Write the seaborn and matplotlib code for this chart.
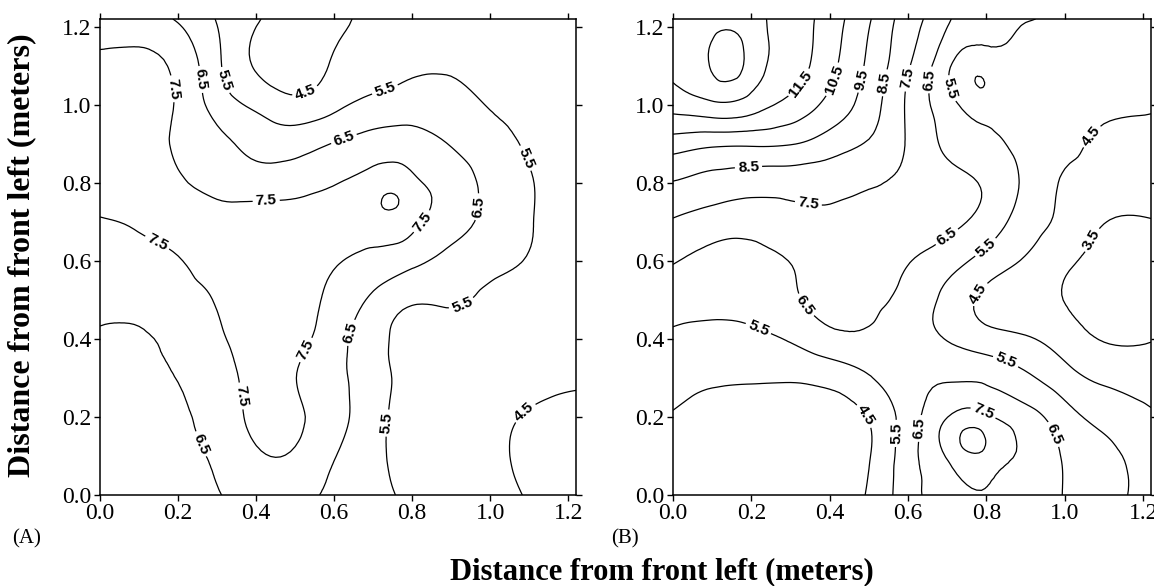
import numpy as np
import matplotlib
import matplotlib.pyplot as plt
import matplotlib.tri as mtri
from matplotlib.ticker import FormatStrFormatter
import seaborn as sns
matplotlib.use("Agg")

# sampling grid (meters from front left)
x_pos = [0.0, 0.1, 0.2, 0.3, 0.4, 0.5, 0.6, 0.7, 0.8, 0.9, 1.0, 1.1, 1.22]
y_pos = [0.0, 0.1, 0.2, 0.3, 0.4, 0.5, 0.6, 0.7, 0.8, 0.9, 1.0, 1.1, 1.22]

# panel (A) readings, one row per y position (bottom -> top)
values_a = [
    [5.9, 6.0, 6.2, 6.45, 6.9, 6.8, 6.3, 5.8, 5.3, 5.0, 4.75, 4.45, 4.2],
    [6.0, 6.1, 6.3, 6.65, 7.36, 7.38, 6.55, 5.75, 5.15, 5.0, 4.7, 4.35, 4.2],
    [6.1, 6.25, 6.4, 6.9, 7.7, 7.65, 6.9, 5.85, 5.15, 4.95, 4.7, 4.45, 4.3],
    [6.2, 6.35, 6.52, 7.1, 7.7, 7.52, 6.8, 5.9, 5.2, 5.0, 4.85, 4.7, 4.6],
    [6.4, 6.38, 6.8, 7.35, 7.85, 7.75, 6.95, 5.8, 5.3, 5.2, 5.05, 4.9, 4.8],
    [6.7, 6.85, 7.2, 7.55, 7.95, 7.85, 7.25, 6.3, 5.6, 5.6, 5.3, 5.1, 5.0],
    [7.0, 7.2, 7.45, 7.85, 8.0, 7.95, 7.6, 7.2, 6.75, 6.2, 5.8, 5.45, 5.2],
    [7.45, 7.6, 7.8, 7.9, 7.95, 7.95, 7.95, 8.1, 7.8, 6.9, 6.2, 5.55, 5.2],
    [7.7, 7.75, 7.6, 7.2, 7.0, 7.1, 7.45, 8.0, 7.8, 7.0, 6.2, 5.55, 5.2],
    [7.75, 7.7, 7.4, 6.8, 6.2, 6.1, 6.55, 6.9, 6.9, 6.45, 5.9, 5.4, 5.2],
    [7.75, 7.7, 7.4, 6.1, 5.3, 4.8, 5.25, 5.8, 6.0, 5.85, 5.45, 5.25, 5.15],
    [7.6, 7.7, 7.25, 5.7, 4.4, 4.0, 4.6, 5.0, 5.35, 5.4, 5.3, 5.2, 5.1],
    [7.2, 6.9, 6.4, 5.45, 4.6, 4.1, 4.3, 4.7, 4.9, 5.0, 5.1, 5.15, 5.15],
]

# panel (B) readings
values_b = [
    [4.0, 3.95, 3.95, 4.0, 4.2, 4.6, 6.1, 7.0, 7.4, 7.1, 6.45, 5.8, 5.2],
    [4.0, 3.9, 3.9, 3.95, 4.15, 4.45, 6.1, 7.6, 8.2, 7.3, 6.4, 5.75, 5.1],
    [4.4, 4.1, 4.05, 4.05, 4.2, 4.55, 6.0, 7.48, 7.7, 6.9, 5.9, 5.2, 4.6],
    [4.9, 4.65, 4.6, 4.6, 4.8, 5.4, 6.2, 6.4, 6.3, 5.7, 4.9, 4.3, 4.2],
    [5.3, 5.2, 5.25, 5.6, 6.2, 6.35, 6.0, 5.45, 4.9, 4.6, 4.0, 3.45, 3.45],
    [6.0, 5.8, 5.9, 6.35, 6.8, 6.7, 6.2, 5.2, 4.3, 3.95, 3.48, 3.2, 3.2],
    [6.55, 6.25, 6.25, 6.52, 6.95, 7.0, 6.55, 5.95, 5.1, 4.4, 3.7, 3.2, 3.1],
    [7.4, 7.0, 6.85, 7.15, 7.3, 7.2, 7.1, 6.75, 6.1, 5.0, 4.25, 3.53, 3.45],
    [8.45, 8.15, 7.95, 7.9, 7.85, 7.6, 7.3, 6.85, 6.35, 5.3, 4.4, 4.1, 4.0],
    [10.0, 9.7, 9.65, 9.55, 9.0, 8.4, 7.4, 6.3, 5.75, 5.2, 4.75, 4.3, 4.15],
    [11.9, 12.3, 12.0, 11.2, 10.2, 9.0, 7.35, 5.9, 4.95, 4.8, 4.75, 4.7, 4.6],
    [12.7, 13.6, 13.1, 12.0, 10.8, 9.3, 7.6, 5.7, 4.9, 4.95, 4.9, 4.85, 4.8],
    [12.9, 13.0, 12.9, 12.1, 11.0, 9.6, 8.0, 6.65, 5.65, 5.55, 5.35, 5.2, 5.1],
]

# local peaks / dips that fall between grid nodes: (x, y, value)
extra_a = [(0.754, 0.759, 8.56)]
extra_b = [(0.14, 1.11, 13.95), (0.763, 0.143, 8.8), (0.774, 1.07, 4.49)]

levels_a = [4.5, 5.5, 6.5, 7.5, 8.5]
levels_b = [3.5, 4.5, 5.5, 6.5, 7.5, 8.5, 9.5, 10.5, 11.5, 12.5, 13.5]

# where the contour labels sit
label_pos_a = [(0.176, 1.04), (0.427, 0.735), (0.152, 0.658), (0.83, 0.697),
               (0.527, 0.372), (0.375, 0.256), (0.251, 1.064), (0.626, 0.91),
               (0.961, 0.739), (0.645, 0.415), (0.261, 0.132), (0.323, 1.064),
               (0.726, 1.051), (1.101, 0.868), (0.925, 0.491), (0.74, 0.184),
               (0.527, 1.03), (1.086, 0.214)]
label_pos_b = [(0.317, 1.06), (0.411, 1.064), (0.487, 1.064), (0.543, 1.056),
               (0.6, 1.068), (0.655, 1.064), (0.71, 1.042), (0.193, 0.833),
               (0.345, 0.744), (0.693, 0.671), (0.796, 0.637), (1.08, 0.91),
               (1.078, 0.649), (0.791, 0.508), (0.355, 0.5), (0.218, 0.427),
               (0.847, 0.338), (0.487, 0.201), (0.564, 0.158), (0.625, 0.171),
               (0.795, 0.218), (0.958, 0.15)]

sns.set_style("ticks", {"axes.edgecolor": "black", "xtick.color": "black",
                        "ytick.color": "black", "text.color": "black"})
plt.rcParams['font.family'] = ['Liberation Serif', 'DejaVu Serif']


def draw_panel(ax, values, extra, levels, label_pos):
    """Contour one floor map and dress the axes"""
    gx, gy = np.meshgrid(x_pos, y_pos)
    px = np.concatenate([gx.ravel(), [e[0] for e in extra]])
    py = np.concatenate([gy.ravel(), [e[1] for e in extra]])
    pz = np.concatenate([np.array(values).ravel(), [e[2] for e in extra]])

    tri = mtri.Triangulation(px, py)
    tri_f, z_f = mtri.UniformTriRefiner(tri).refine_field(pz, subdiv=3)
    cs = ax.tricontour(tri_f, z_f, levels=levels, colors='black',
                       linewidths=0.9)
    # labels in a bold sans face, like the original
    with plt.rc_context({'font.family': 'Liberation Sans',
                         'font.weight': 'bold'}):
        ax.clabel(cs, fmt='%.1f', fontsize=11, manual=label_pos,
                  inline=True, inline_spacing=3)

    ax.set_xlim(0, 1.22)
    ax.set_ylim(0, 1.22)
    ticks = [0.0, 0.2, 0.4, 0.6, 0.8, 1.0, 1.2]
    ax.set_xticks(ticks)
    ax.set_yticks(ticks)
    ax.xaxis.set_major_formatter(FormatStrFormatter('%.1f'))
    ax.yaxis.set_major_formatter(FormatStrFormatter('%.1f'))
    ax.tick_params(direction='out', top=True, right=True, length=4,
                   width=1, labelsize=17, pad=2)
    for s in ax.spines.values():
        s.set_linewidth(1.1)
        s.set_color('black')


fig = plt.figure(figsize=(11.54, 5.86), dpi=100)
ax_a = fig.add_axes([0.0867, 0.1553, 0.4125, 0.8123])
ax_b = fig.add_axes([0.5832, 0.1553, 0.4142, 0.8123])

draw_panel(ax_a, values_a, extra_a, levels_a, label_pos_a)
draw_panel(ax_b, values_b, extra_b, levels_b, label_pos_b)

fig.text(0.019, 0.565, 'Distance from front left (meters)', rotation=90,
         ha='center', va='center', fontsize=23, fontweight='bold')
fig.text(0.5737, 0.025, 'Distance from front left (meters)',
         ha='center', va='center', fontsize=22, fontweight='bold')
fig.text(0.0234, 0.080, '(A)', ha='center', va='center', fontsize=15)
fig.text(0.5416, 0.080, '(B)', ha='center', va='center', fontsize=15)

fig.savefig('out.png', dpi=100)
